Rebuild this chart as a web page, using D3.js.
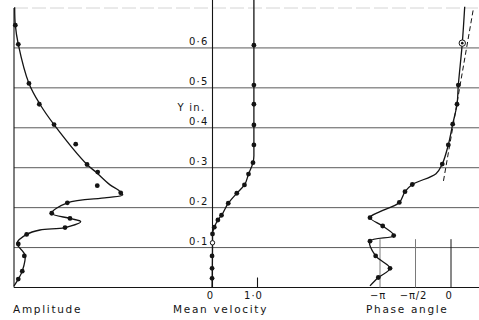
<!DOCTYPE html>
<html>
<head>
<meta charset="utf-8">
<script src="https://cdn.jsdelivr.net/npm/d3@7"></script>
<style>
  html, body { margin: 0; padding: 0; background: #fff; }
  svg { display: block; }
  text { font-family: "DejaVu Sans", sans-serif; fill: #141414; }
</style>
</head>
<body>
<svg id="chart" width="479" height="320"></svg>
<script>
// Height above the wall (in.) for gridlines and their labels
const yTicks = [0.1, 0.2, 0.3, 0.4, 0.5, 0.6];
const yTickLabels = ["0·1", "0·2", "0·3", "0·4", "0·5", "0·6"];

// Amplitude: measured points
const ampY   = [0.657, 0.609, 0.511, 0.459, 0.408, 0.359, 0.308, 0.289, 0.255, 0.237, 0.212, 0.186, 0.173, 0.150, 0.133, 0.109, 0.079, 0.041, 0.021];
const ampVal = [0.012, 0.039, 0.136, 0.230, 0.364, 0.561, 0.664, 0.761, 0.757, 0.970, 0.485, 0.343, 0.509, 0.464, 0.115, 0.039, 0.094, 0.075, 0.039];
// Amplitude: faired curve
const ampCurveY   = [0.702, 0.657, 0.609, 0.511, 0.459, 0.408, 0.308, 0.289, 0.257, 0.244, 0.232, 0.225, 0.212, 0.186, 0.173, 0.165, 0.150, 0.144, 0.133, 0.111, 0.081, 0.041, 0.021, 0.004];
const ampCurveVal = [0.006, 0.012, 0.039, 0.136, 0.236, 0.364, 0.664, 0.745, 0.873, 0.948, 0.988, 0.843, 0.485, 0.343, 0.509, 0.606, 0.464, 0.236, 0.115, 0.027, 0.100, 0.075, 0.039, 0.000];

// Mean velocity: measured points (open marker flagged)
const velY    = [0.607, 0.507, 0.459, 0.407, 0.357, 0.3125, 0.284, 0.257, 0.236, 0.211, 0.181, 0.169, 0.151, 0.134, 0.112, 0.079, 0.048, 0.023];
const velVal  = [0.92, 0.92, 0.92, 0.92, 0.92, 0.90, 0.80, 0.71, 0.54, 0.35, 0.20, 0.12, 0.04, 0.00, 0.00, -0.01, -0.01, -0.01];
const velOpen = [false, false, false, false, false, false, false, false, false, false, false, false, false, false, true, false, false, false];
// Mean velocity: faired curve
const velCurveY   = [0.72, 0.33, 0.3125, 0.284, 0.257, 0.236, 0.211, 0.181, 0.169, 0.151, 0.134, 0.112, 0.0];
const velCurveVal = [0.92, 0.92, 0.90, 0.80, 0.71, 0.54, 0.35, 0.20, 0.12, 0.04, 0.00, 0.00, -0.01];
const velTicks = [0, 1];
const velTickLabels = ["0", "1·0"];

// Phase angle, in multiples of pi
const phY   = [0.612, 0.507, 0.459, 0.409, 0.357, 0.309, 0.258, 0.240, 0.213, 0.175, 0.154, 0.130, 0.116, 0.079, 0.048, 0.025];
const phVal = [0.159, 0.103, 0.085, 0.024, -0.038, -0.123, -0.545, -0.648, -0.728, -1.141, -0.962, -0.807, -1.141, -1.061, -0.859, -1.024];
const phRinged = [true, false, false, false, false, false, false, false, false, false, false, false, false, false, false, false];
const phCurveY   = [0.703, 0.612, 0.507, 0.459, 0.409, 0.357, 0.309, 0.285, 0.258, 0.240, 0.213, 0.190, 0.175, 0.154, 0.130, 0.116, 0.079, 0.048, 0.025, 0.004];
const phCurveVal = [0.193, 0.159, 0.103, 0.085, 0.024, -0.038, -0.123, -0.211, -0.545, -0.648, -0.728, -1.000, -1.141, -0.962, -0.807, -1.141, -1.061, -0.859, -1.024, -1.141];
// Straight-line asymptote (dashed)
const phDashY   = [0.267, 0.700];
const phDashVal = [-0.106, 0.317];
const phTicks = [-1, -0.5, 0];
const phTickLabels = ["−π", "−π/2", "0"];

const panelTitles = ["Amplitude", "Mean velocity", "Phase angle"];

// ---- scales ----
const y    = d3.scaleLinear().domain([0, 0.7]).range([287.5, 8]);
const ampX = d3.scaleLinear().domain([0, 1]).range([14, 124]);
const velX = d3.scaleLinear().domain([0, 1]).range([212.5, 257.5]);
const phX  = d3.scaleLinear().domain([-1, 0]).range([380, 451]);

const svg = d3.select("#chart");
const left = 14, right = 479;
const ink = "#141414";

// ---- frame and gridlines ----
svg.append("line")
  .attr("x1", left).attr("x2", right)
  .attr("y1", y(0.7)).attr("y2", y(0.7))
  .attr("stroke", "#d4d4d4").attr("stroke-width", 1)
  .attr("stroke-dasharray", "14 4");

svg.append("g").selectAll("line").data(yTicks).join("line")
  .attr("x1", left).attr("x2", right)
  .attr("y1", d => y(d)).attr("y2", d => y(d))
  .attr("stroke", "#5a5a5a").attr("stroke-width", 1);

svg.append("line")
  .attr("x1", left).attr("x2", right)
  .attr("y1", y(0)).attr("y2", y(0))
  .attr("stroke", ink).attr("stroke-width", 1.1);

svg.append("line")
  .attr("x1", left).attr("x2", left)
  .attr("y1", y(0.7)).attr("y2", y(0))
  .attr("stroke", ink).attr("stroke-width", 1.1);

// centre axis carrying the Y scale
svg.append("line")
  .attr("x1", velX(0)).attr("x2", velX(0))
  .attr("y1", 0).attr("y2", y(0))
  .attr("stroke", ink).attr("stroke-width", 1.1);

const yAxis = d3.axisLeft(y).tickValues(yTicks)
  .tickFormat((d, i) => yTickLabels[i]).tickSize(0).tickPadding(0);
const yAxisG = svg.append("g").attr("transform", `translate(${velX(0) - 4},0)`).call(yAxis);
yAxisG.select(".domain").remove();
yAxisG.selectAll("text")
  .attr("dy", "-0.3em")
  .style("font-family", "'DejaVu Sans', sans-serif")
  .style("font-size", "10px")
  .style("letter-spacing", "1.2px")
  .attr("fill", ink);

svg.append("text")
  .attr("x", velX(0) - 7).attr("y", y(0.4) - 17)
  .attr("text-anchor", "end")
  .style("font-size", "10px").style("letter-spacing", "1.3px")
  .text("Y in.");

// ---- velocity axis ----
svg.append("line")
  .attr("x1", velX(1)).attr("x2", velX(1))
  .attr("y1", y(0) - 10).attr("y2", y(0))
  .attr("stroke", ink).attr("stroke-width", 1.1);

svg.append("g").selectAll("text").data(velTicks).join("text")
  .attr("x", (d, i) => velX(d) - (i === 0 ? 2 : 4))
  .attr("y", 298.5)
  .attr("text-anchor", "middle")
  .style("font-size", "10px").style("letter-spacing", "1px")
  .text((d, i) => velTickLabels[i]);

// ---- phase axis ----
svg.append("g").selectAll("line").data(phTicks).join("line")
  .attr("x1", d => phX(d)).attr("x2", d => phX(d))
  .attr("y1", y(0.121)).attr("y2", y(0))
  .attr("stroke", d => d === 0 ? ink : "#7a7a7a").attr("stroke-width", 1);

svg.append("g").selectAll("text").data(phTicks).join("text")
  .attr("x", d => phX(d) - 2)
  .attr("y", 298.5)
  .attr("text-anchor", "middle")
  .style("font-size", "10px").style("letter-spacing", "0.8px")
  .text((d, i) => phTickLabels[i]);

// ---- curves ----
const curveStyle = sel => sel.attr("fill", "none").attr("stroke", ink)
  .attr("stroke-width", 1.3).attr("stroke-linejoin", "round");

const ampLine = d3.line().x(d => ampX(d[1])).y(d => y(d[0])).curve(d3.curveCatmullRom.alpha(0.5));
svg.append("path").datum(d3.zip(ampCurveY, ampCurveVal)).attr("d", ampLine).call(curveStyle);

const velLine = d3.line().x(d => velX(d[1])).y(d => y(d[0])).curve(d3.curveMonotoneY);
svg.append("path").datum(d3.zip(velCurveY, velCurveVal).reverse()).attr("d", velLine).call(curveStyle);

const phLine = d3.line().x(d => phX(d[1])).y(d => y(d[0])).curve(d3.curveCatmullRom.alpha(0.5));
svg.append("path").datum(d3.zip(phCurveY, phCurveVal)).attr("d", phLine).call(curveStyle);

svg.append("path").datum(d3.zip(phDashY, phDashVal))
  .attr("d", d3.line().x(d => phX(d[1])).y(d => y(d[0])))
  .attr("fill", "none").attr("stroke", ink).attr("stroke-width", 1)
  .attr("stroke-dasharray", "5 3");

// ---- markers ----
const r = 2.4;
svg.append("g").selectAll("circle").data(d3.zip(ampY, ampVal)).join("circle")
  .attr("cx", d => ampX(d[1])).attr("cy", d => y(d[0])).attr("r", r).attr("fill", ink);

const velPts = velY.map((v, i) => ({ y: v, x: velVal[i], open: velOpen[i] }));
svg.append("g").selectAll("circle").data(velPts).join("circle")
  .attr("cx", d => velX(d.x)).attr("cy", d => y(d.y)).attr("r", d => d.open ? 2.2 : r)
  .attr("fill", d => d.open ? "#fff" : ink)
  .attr("stroke", ink).attr("stroke-width", d => d.open ? 1 : 0);

const phPts = phY.map((v, i) => ({ y: v, x: phVal[i], ring: phRinged[i] }));
svg.append("g").selectAll("circle").data(phPts).join("circle")
  .attr("cx", d => phX(d.x)).attr("cy", d => y(d.y)).attr("r", d => d.ring ? 3.2 : r)
  .attr("fill", d => d.ring ? "#fff" : ink)
  .attr("stroke", ink).attr("stroke-width", d => d.ring ? 1 : 0);
svg.append("g").selectAll("circle").data(phPts.filter(d => d.ring)).join("circle")
  .attr("cx", d => phX(d.x)).attr("cy", d => y(d.y)).attr("r", 1.3).attr("fill", ink);

// ---- panel titles ----
const titleX = [13, 173, 366];
svg.append("g").selectAll("text").data(panelTitles).join("text")
  .attr("x", (d, i) => titleX[i]).attr("y", 313)
  .style("font-size", "10.5px").style("letter-spacing", "1.7px")
  .text(d => d);
</script>
</body>
</html>
